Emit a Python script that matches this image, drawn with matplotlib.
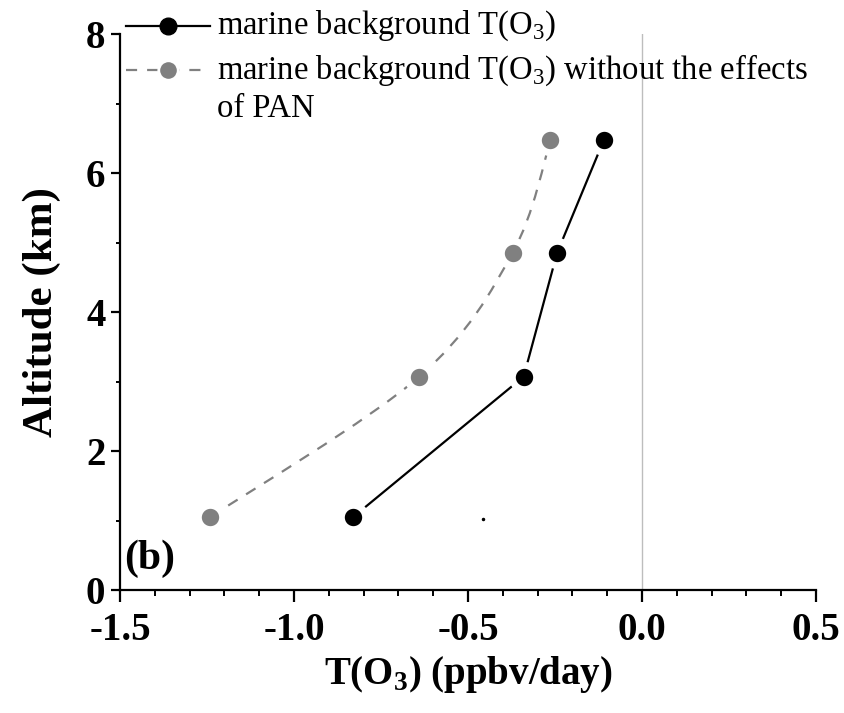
import numpy as np
import matplotlib
matplotlib.use("Agg")
import matplotlib.pyplot as plt
from matplotlib.path import Path
from matplotlib.patches import PathPatch

plt.rcParams['font.family'] = ['Liberation Serif', 'DejaVu Serif']
plt.rcParams['mathtext.fontset'] = 'custom'
plt.rcParams['mathtext.rm'] = 'Liberation Serif'
plt.rcParams['mathtext.bf'] = 'Liberation Serif:bold'

# altitude (km) and ozone tendency (ppbv/day)
altitude = [1.05, 3.07, 4.85, 6.47]
t_o3 = [-0.83, -0.34, -0.244, -0.11]
t_o3_no_pan = [-1.24, -0.64, -0.372, -0.263]
stray_x, stray_y = [-0.458], [1.02]

label_a = r'marine background T(O$_{\mathrm{3}}$)'
label_b = r'marine background T(O$_{\mathrm{3}}$) without the effects'
label_b2 = 'of PAN'

black = '#000000'
grey = '#808080'


def smooth_path(xs, ys):
    # catmull-rom style bezier through the points
    p = np.column_stack([xs, ys])
    ext = np.vstack([p[0], p, p[-1]])
    verts = [p[0]]
    codes = [Path.MOVETO]
    for i in range(1, len(ext) - 2):
        c1 = ext[i] + (ext[i + 1] - ext[i - 1]) / 6
        c2 = ext[i + 1] - (ext[i + 2] - ext[i]) / 6
        verts += [c1, c2, ext[i + 1]]
        codes += [Path.CURVE4] * 3
    return Path(verts, codes)


fig = plt.figure(figsize=(8.44, 7.13), dpi=100)
ax = fig.add_axes([0.1422, 0.1725, 0.8246, 0.7798])

ax.axvline(0, color='#bdbdbd', lw=1.0, zorder=1)

# grey dashed smooth curve
patch = PathPatch(smooth_path(t_o3_no_pan, altitude), fill=False, edgecolor=grey,
                  lw=1.6, linestyle=(0, (5, 4.5)), zorder=2)
ax.add_patch(patch)
ax.plot(t_o3_no_pan, altitude, ls='none', marker='o', ms=17.5, mfc=grey,
        mec='white', mew=5, zorder=3)

ax.plot(t_o3, altitude, color=black, lw=1.6, zorder=2)
ax.plot(t_o3, altitude, ls='none', marker='o', ms=17.5, mfc=black,
        mec='white', mew=5, zorder=3)
ax.plot(stray_x, stray_y, ls='none', marker='o', ms=1.5, color=black)

ax.set_xlim(-1.5, 0.5)
ax.set_ylim(0, 8)
ax.set_xticks([-1.5, -1.0, -0.5, 0.0, 0.5])
ax.set_xticklabels(['-1.5', '-1.0', '-0.5', '0.0', '0.5'])
ax.set_yticks([0, 2, 4, 6, 8])
ax.set_xticks(np.arange(-1.5, 0.51, 0.1), minor=True)
ax.set_yticks([1, 3, 5, 7], minor=True)

for s in ('top', 'right'):
    ax.spines[s].set_visible(False)
for s in ('left', 'bottom'):
    ax.spines[s].set_linewidth(1.6)

ax.tick_params(which='major', direction='out', width=1.6, labelsize=28)
ax.tick_params(axis='x', which='major', length=8.5, pad=7)
ax.tick_params(axis='y', which='major', length=6.5, pad=4)
ax.tick_params(axis='x', which='minor', direction='out', width=1.4, length=4.3)
ax.tick_params(axis='y', which='minor', direction='out', width=1.4, length=3)
for lab in ax.get_xticklabels() + ax.get_yticklabels():
    lab.set_fontweight('bold')

ax.set_xlabel(r'T(O$_{\mathbf{3}}$) (ppbv/day)', fontsize=28, fontweight='bold', labelpad=4)
ax.set_ylabel('Altitude (km)', fontsize=31, fontweight='bold', labelpad=18)

ax.text(-1.487, 0.45, '(b)', fontsize=30, fontweight='bold', ha='left', va='center')

# hand-made legend
ax.plot([-1.484, -1.24], [8.12, 8.12], color=black, lw=1.6, clip_on=False)
ax.plot([-1.362], [8.12], marker='o', ms=12, color=black, clip_on=False)
ax.plot([-1.484, -1.24], [7.48, 7.48], color=grey, lw=1.6, ls=(0, (5, 4.5)),
        clip_on=False)
ax.plot([-1.362], [7.48], marker='o', ms=14, mfc=grey, mec='white', mew=2,
        clip_on=False)
ax.text(-1.222, 8.12, label_a, fontsize=23.5, ha='left', va='center', clip_on=False)
ax.text(-1.222, 7.48, label_b, fontsize=23.5, ha='left', va='center', clip_on=False)
ax.text(-1.222, 6.92, label_b2, fontsize=23.5, ha='left', va='center', clip_on=False)

fig.savefig('out.png', dpi=100)
